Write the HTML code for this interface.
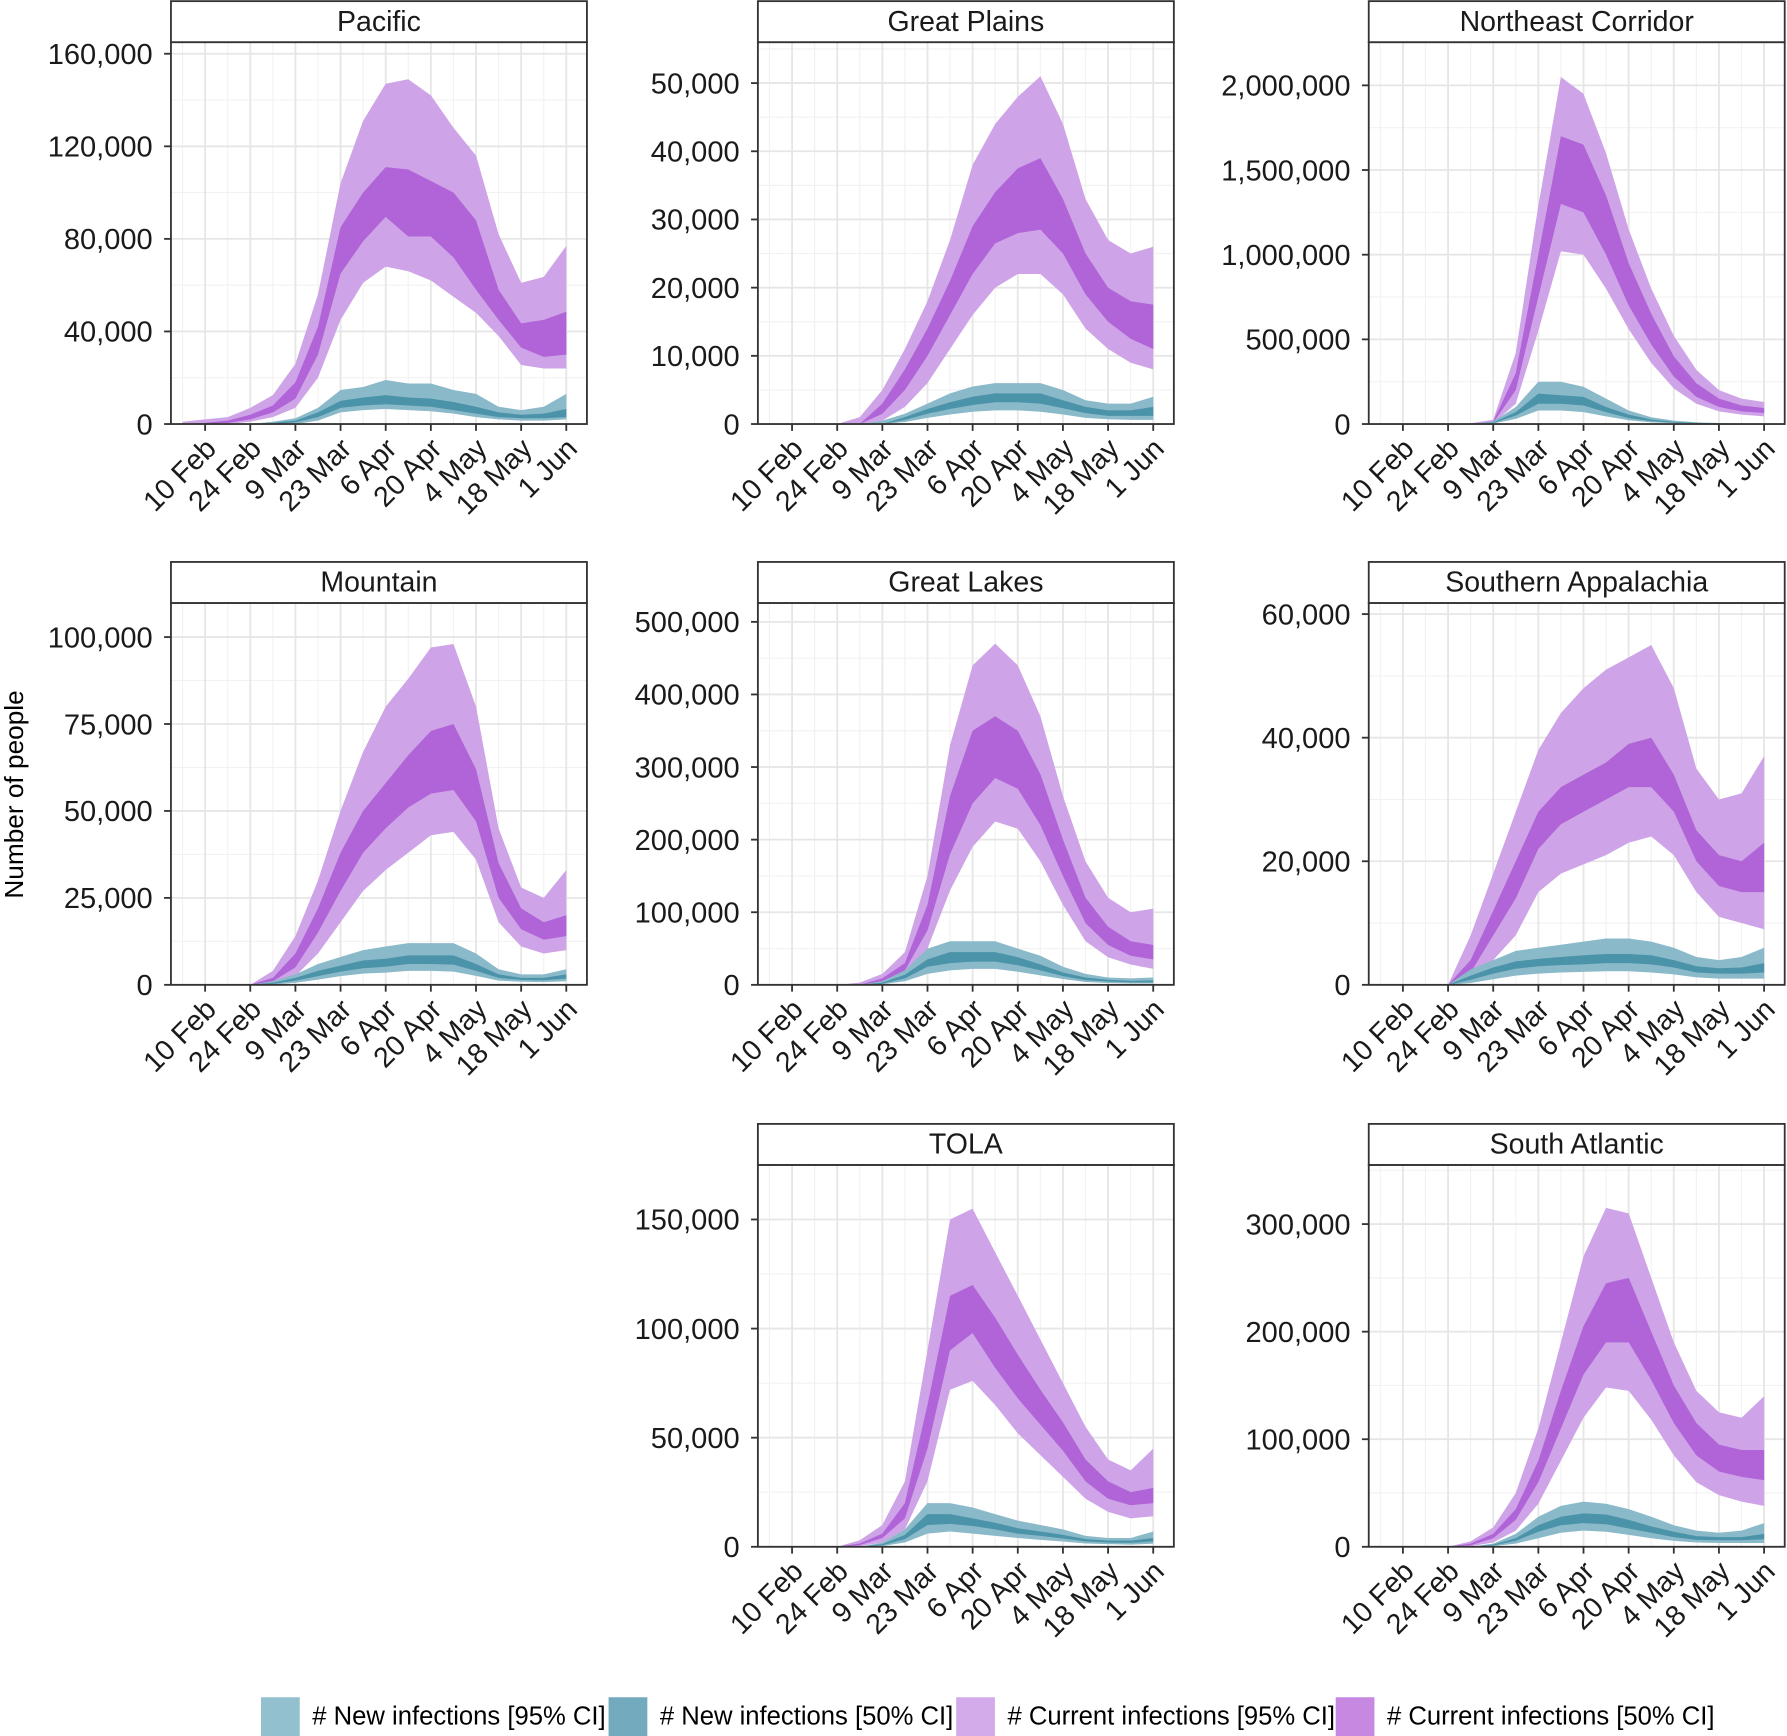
<!DOCTYPE html>
<html><head><meta charset="utf-8"><style>
html,body{margin:0;padding:0;background:#fff;}
svg{display:block;font-family:"Liberation Sans",Arial,sans-serif;}
</style></head><body>
<svg id="chart" width="1787" height="1736" viewBox="0 0 1568 1523" preserveAspectRatio="none" xmlns="http://www.w3.org/2000/svg">
<text x="20" y="697" font-size="23" text-anchor="middle" transform="rotate(-90 20 697)">Number of people</text>
<g font-size="22.5">
<rect x="229" y="1489" width="34" height="34" fill="#92c0cf"/>
<text x="274" y="1513">#&#160;New infections [95% CI]</text>
<rect x="534" y="1489" width="34" height="34" fill="#74aabd"/>
<text x="579" y="1513">#&#160;New infections [50% CI]</text>
<rect x="839" y="1489" width="34" height="34" fill="#d4abea"/>
<text x="884" y="1513">#&#160;Current infections [95% CI]</text>
<rect x="1172" y="1489" width="34" height="34" fill="#c788e2"/>
<text x="1217" y="1513">#&#160;Current infections [50% CI]</text>
</g>
</svg>
<script>
const days = [-7,0,7,14,21,28,35,42,49,56,63,70,77,84,91,98,105,112];
const xTickDays = [0,14,28,42,56,70,84,98,112];
const xTickLabels = ["10 Feb","24 Feb","9 Mar","23 Mar","6 Apr","20 Apr","4 May","18 May","1 Jun"];
const panelNames = ["Pacific","Great Plains","Northeast Corridor","Mountain","Great Lakes","Southern Appalachia","TOLA","South Atlantic"];
const yTicks = [
 [0,40000,80000,120000,160000],
 [0,10000,20000,30000,40000,50000],
 [0,500000,1000000,1500000,2000000],
 [0,25000,50000,75000,100000],
 [0,100000,200000,300000,400000,500000],
 [0,20000,40000,60000],
 [0,50000,100000,150000],
 [0,100000,200000,300000]
];
const yMax = [165000,56000,2255000,109800,526000,61800,175000,355000];
const cur95hi = [
 [1000,2000,3000,7000,12500,26000,56000,104000,131000,147000,149000,142000,128000,116000,82000,61000,63600,77000],
 [0,0,0,0,1000,5000,11000,18000,27000,38000,44000,48000,51000,44000,33000,27000,25000,26000],
 [0,0,0,0,5000,25000,420000,1290000,2050000,1950000,1600000,1150000,800000,520000,320000,200000,150000,130000],
 [0,0,0,0,4000,14000,30000,50000,67000,80000,88000,97000,98000,80000,45000,28000,25000,33000],
 [0,0,0,0,3000,15000,45000,150000,330000,440000,470000,440000,370000,260000,170000,120000,100000,105000],
 [0,0,0,0,8000,18000,28000,38000,44000,48000,51000,53000,55000,48000,35000,30000,31000,37000],
 [0,0,0,0,3000,10000,30000,90000,150000,155000,135000,115000,95000,75000,55000,40000,35000,45000],
 [0,0,0,0,5000,18000,50000,110000,190000,270000,315000,310000,250000,190000,145000,125000,120000,140000]
];
const cur50hi = [
 [0,500,1500,4000,8000,18000,42000,85000,100000,111000,110000,105000,100000,88000,58000,43500,45000,48500],
 [0,0,0,0,0,3000,8000,14000,21000,29000,34000,37500,39000,33000,25000,20000,18000,17500],
 [0,0,0,0,0,15000,300000,1000000,1700000,1650000,1350000,950000,650000,400000,240000,150000,110000,95000],
 [0,0,0,0,2000,9000,22000,38000,50000,58000,66000,73000,75000,62000,35000,22000,18000,20000],
 [0,0,0,0,0,9000,30000,110000,260000,350000,370000,350000,290000,200000,120000,80000,60000,55000],
 [0,0,0,0,4000,12000,20000,28000,32000,34000,36000,39000,40000,34000,25000,21000,20000,23000],
 [0,0,0,0,1500,6000,20000,65000,115000,120000,105000,88000,72000,57000,40000,30000,25000,27000],
 [0,0,0,0,3000,12000,35000,80000,145000,205000,245000,250000,200000,150000,115000,95000,90000,90000]
];
const cur50lo = [
 [0,0,500,2000,5000,11000,30000,65000,79000,89500,81000,81000,72000,58000,45000,33000,29000,30000],
 [0,0,0,0,0,1500,5000,10000,16000,22000,26500,28000,28500,25000,19000,15000,12500,11000],
 [0,0,0,0,0,8000,200000,750000,1300000,1250000,1000000,700000,470000,280000,160000,100000,75000,65000],
 [0,0,0,0,1000,5000,15000,27000,38000,45000,51000,55000,56000,47000,25000,16000,13000,14000],
 [0,0,0,0,0,5000,20000,75000,180000,250000,285000,270000,220000,150000,85000,55000,40000,35000],
 [0,0,0,0,2000,8000,14000,22000,26000,28000,30000,32000,32000,28000,20000,16000,15000,15000],
 [0,0,0,0,800,4000,13000,45000,90000,98000,82000,68000,56000,44000,30000,22000,19000,20000],
 [0,0,0,0,1500,8000,25000,60000,110000,160000,190000,190000,155000,115000,85000,70000,65000,62000]
];
const cur95lo = [
 [0,0,0,1000,3000,7000,20000,45000,61000,68000,66000,62000,55000,48000,38000,25500,24000,24000],
 [0,0,0,0,0,500,2500,6000,11000,16000,20000,22000,22000,19000,14000,11000,9000,8000],
 [0,0,0,0,0,4000,120000,550000,1020000,1000000,800000,560000,360000,210000,120000,75000,55000,45000],
 [0,0,0,0,500,2500,9000,18000,27000,33000,38000,43000,44000,36000,18000,11000,9000,10000],
 [0,0,0,0,0,2000,12000,50000,130000,190000,225000,215000,170000,110000,60000,38000,28000,22000],
 [0,0,0,0,1000,4000,8000,15000,18000,19500,21000,23000,24000,21000,15000,11000,10000,9000],
 [0,0,0,0,300,2000,8000,30000,72000,76000,65000,52000,42000,32000,22000,16000,13000,14000],
 [0,0,0,0,500,4000,15000,40000,80000,120000,148000,145000,118000,85000,60000,48000,42000,38000]
];
const new95hi = [
 [0,0,0,0,1000,2500,7000,14700,16000,19000,17500,17500,14700,13000,7500,6000,7500,13000],
 [0,0,0,0,0,500,1500,3000,4500,5500,6000,6000,6000,5000,3500,3000,3000,4000],
 [0,0,0,0,0,15000,100000,250000,250000,220000,150000,80000,40000,20000,10000,6000,4000,3000],
 [0,0,0,0,1000,3000,6000,8000,10000,11000,12000,12000,12000,9000,4500,3000,3000,4500],
 [0,0,0,0,0,5000,20000,50000,60000,60000,60000,50000,40000,25000,15000,10000,9000,10000],
 [0,0,0,0,2500,4000,5500,6000,6500,7000,7500,7500,7000,6000,4500,4000,4500,6000],
 [0,0,0,0,0,2000,8000,20000,20000,18000,15000,12000,10000,8000,5000,4000,4000,7000],
 [0,0,0,0,0,3000,12000,28000,38000,42000,40000,35000,28000,20000,15000,13000,15000,22000]
];
const new50hi = [
 [0,0,0,0,500,1500,5000,10000,11500,12500,11500,11000,9500,7500,5000,4000,4500,6500],
 [0,0,0,0,0,0,1000,2200,3200,4000,4500,4500,4500,3500,2500,2000,2000,2500],
 [0,0,0,0,0,10000,70000,180000,170000,160000,100000,55000,27000,13000,7000,4000,3000,2000],
 [0,0,0,0,600,2000,4000,5500,7000,7500,8500,8500,8500,6000,3000,2000,2000,3000],
 [0,0,0,0,0,3000,14000,35000,45000,45000,45000,38000,28000,17000,10000,7000,5500,6000],
 [0,0,0,0,1500,2800,3800,4200,4500,4800,5000,5000,4800,4000,3000,2700,2800,3500],
 [0,0,0,0,0,1200,5500,15000,15000,13000,11000,8500,7000,5500,3500,2800,2800,4000],
 [0,0,0,0,0,2000,8000,20000,28000,31000,30000,25000,19000,14000,10000,9000,9000,12000]
];
const new50lo = [
 [0,0,0,0,0,800,3000,7000,8000,8500,8000,7500,6000,4500,3000,2500,2500,3000],
 [0,0,0,0,0,0,600,1500,2200,2800,3200,3200,3000,2300,1600,1200,1200,1200],
 [0,0,0,0,0,6000,50000,120000,120000,110000,70000,35000,17000,8000,4000,2500,1800,1200],
 [0,0,0,0,300,1200,2500,3800,4800,5200,6000,6000,5800,4000,2000,1400,1300,1800],
 [0,0,0,0,0,1500,9000,25000,30000,32000,32000,27000,20000,12000,6500,4500,3500,3500],
 [0,0,0,0,800,1800,2600,3000,3200,3300,3500,3500,3300,2800,2000,1800,1800,2000],
 [0,0,0,0,0,700,3500,10000,10500,9500,8000,6000,5000,3800,2500,2000,1800,2500],
 [0,0,0,0,0,1200,5500,14000,20000,22000,21000,17000,13000,9000,6500,6000,6000,7000]
];
const new95lo = [
 [0,0,0,0,0,0,1500,5000,6000,6500,6000,5500,4500,3000,2000,1500,1500,2000],
 [0,0,0,0,0,0,300,900,1400,1800,2000,2000,1800,1400,900,700,600,600],
 [0,0,0,0,0,3000,30000,80000,80000,70000,45000,22000,10000,5000,2500,1500,1000,700],
 [0,0,0,0,100,600,1500,2500,3200,3500,4000,4000,3800,2600,1200,900,800,1000],
 [0,0,0,0,0,800,5000,15000,20000,22000,22000,18000,13000,8000,4000,2500,2000,2000],
 [0,0,0,0,300,900,1500,1800,2000,2100,2200,2200,2000,1700,1200,1000,1000,1000],
 [0,0,0,0,0,300,2000,6000,7000,6000,5000,4000,3200,2400,1500,1200,1000,1400],
 [0,0,0,0,0,600,3000,8000,13000,15000,14000,11000,8000,5500,4000,3500,3500,3500]
];

const NS = "http://www.w3.org/2000/svg";
const svg = document.getElementById("chart");
const colX = [150,665,1201];
const rowY = [37,529,1022];
const slots = [[0,0],[0,1],[0,2],[1,0],[1,1],[1,2],[2,1],[2,2]];
const PW = 365, PH = 335;
const D0 = -10.6, D1 = 118.4;
function mk(tag, attrs){ const e=document.createElementNS(NS,tag); for(const k in attrs) e.setAttribute(k,attrs[k]); return e; }
function fmt(v){ return v.toLocaleString("en-US"); }

panelNames.forEach((name,p)=>{
  const x0 = colX[slots[p][1]], y0 = rowY[slots[p][0]];
  const xs = d => x0 + (d - D0)/(D1 - D0)*PW;
  const ys = v => y0 + PH - v/yMax[p]*PH;
  const g = mk("g",{});
  
  
  svg.appendChild(g);
  for(let d=-7; d<=118; d+=14){
    const l = mk("line",{x1:xs(d),x2:xs(d),y1:y0,y2:y0+PH,stroke:"#f2f2f2","stroke-width":1});
    
    
    g.appendChild(l);
  }
  const t = yTicks[p], step = t[1]-t[0];
  for(let v=step/2; v<yMax[p]; v+=step){
    const l = mk("line",{x1:x0,x2:x0+PW,y1:ys(v),y2:ys(v),stroke:"#f2f2f2","stroke-width":1});
    
    
    g.appendChild(l);
  }
  xTickDays.forEach(d=>{
    const l = mk("line",{x1:xs(d),x2:xs(d),y1:y0,y2:y0+PH,stroke:"#e6e6e6","stroke-width":1.6});
    
    
    g.appendChild(l);
  });
  t.forEach(v=>{
    const l = mk("line",{x1:x0,x2:x0+PW,y1:ys(v),y2:ys(v),stroke:"#e6e6e6","stroke-width":1.6});
    
    
    g.appendChild(l);
  });
  const bands = [[cur95lo,cur95hi,"#cea3e7","band-current-95"],[cur50lo,cur50hi,"#b064d7","band-current-50"],[new95lo,new95hi,"#8ab9c9","band-new-95"],[new50lo,new50hi,"#4b93a9","band-new-50"]];
  bands.forEach(([lo,hi,col,nm])=>{
    let pts = days.map((d,i)=>xs(d).toFixed(1)+","+ys(hi[p][i]).toFixed(1));
    for(let i=days.length-1;i>=0;i--) pts.push(xs(days[i]).toFixed(1)+","+ys(lo[p][i]).toFixed(1));
    const poly = mk("polygon",{points:pts.join(" "),fill:col});
    
    
    g.appendChild(poly);
  });
  const b = mk("rect",{x:x0,y:y0,width:PW,height:PH,fill:"none",stroke:"#333","stroke-width":1.6});
  
  
  g.appendChild(b);
  const s = mk("rect",{x:x0,y:y0-36,width:PW,height:36,fill:"#fff",stroke:"#333","stroke-width":1.6});
  
  
  g.appendChild(s);
  const st = mk("text",{x:x0+PW/2,y:y0-10,"font-size":25,"text-anchor":"middle",fill:"#1a1a1a"});
  st.textContent = name;
  
  
  g.appendChild(st);
  t.forEach(v=>{
    const tk = mk("line",{x1:x0-6,x2:x0,y1:ys(v),y2:ys(v),stroke:"#333","stroke-width":1.6});
    
    
    g.appendChild(tk);
    const tl = mk("text",{x:x0-16,y:ys(v)+9,"font-size":25.5,"text-anchor":"end",fill:"#1a1a1a"});
    tl.textContent = fmt(v);
    
    
    g.appendChild(tl);
  });
  xTickDays.forEach((d,i)=>{
    const tk = mk("line",{x1:xs(d),x2:xs(d),y1:y0+PH,y2:y0+PH+6,stroke:"#333","stroke-width":1.6});
    
    
    g.appendChild(tk);
    const tx = xs(d)+11, ty = y0+PH+23;
    const tl = mk("text",{x:tx,y:ty,"font-size":25,"text-anchor":"end",fill:"#1a1a1a",transform:`rotate(-45 ${tx} ${ty})`});
    tl.textContent = xTickLabels[i];
    
    
    g.appendChild(tl);
  });
});
</script>
</body></html>
